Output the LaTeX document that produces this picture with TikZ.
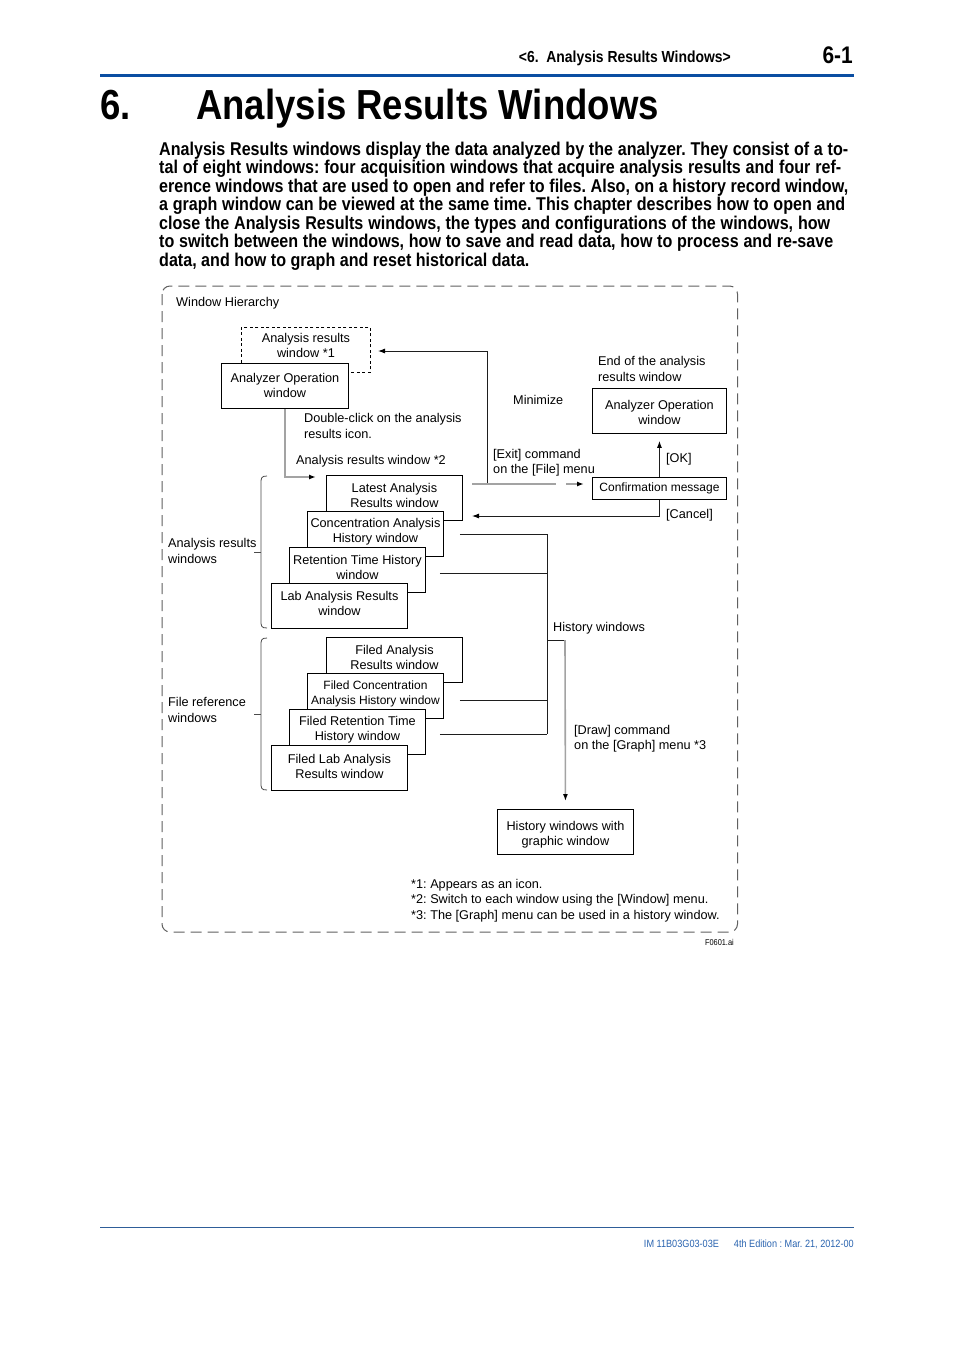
\documentclass[tikz,border=0pt]{standalone}
\usepackage{fontspec}
\setmainfont{Liberation Sans}
\newfontfamily\nb[FakeStretch=0.87]{Liberation Sans}
\usetikzlibrary{arrows.meta,calc}
\definecolor{hdrblue}{HTML}{0B4EA2}
\definecolor{ftblue}{HTML}{2A64B0}
\definecolor{lgray}{HTML}{A3A3A3}
\definecolor{framec}{HTML}{606060}
\definecolor{darkl}{HTML}{1E1E1E}
\frenchspacing
\begin{document}
\begin{tikzpicture}[x=1pt,y=-1pt,
  dtext/.style={font=\fontsize{12.7}{15.5}\selectfont, inner sep=0pt, yshift=-1.5pt},
  btext/.style={font=\fontsize{12.7}{15}\selectfont, inner sep=0pt, align=center},
  wbox/.style={draw=black, line width=0.9pt, fill=white, minimum width=136pt, minimum height=45pt,
    inner sep=0pt, anchor=north west},
  dk/.style={draw=darkl, line width=0.9pt},
  gr/.style={draw=lgray, line width=1.6pt},
  tip/.style={-{Latex[length=7pt,width=5pt,color=black]}},
  bodyl/.style={anchor=base west, inner sep=0pt, font=\nb\bfseries\fontsize{18.5}{20}\selectfont},
]
\useasboundingbox (0,0) rectangle (954,1350);
\fill[white] (0,0) rectangle (954,1350);

% ---------- header ----------
\node[anchor=base east, inner sep=0pt, font=\nb\bfseries\fontsize{16}{18}\selectfont] (hdr) at (731,62) {<6.\ \ Analysis Results Windows>};
\node[anchor=base east, inner sep=0pt, font=\nb\bfseries\fontsize{24}{26}\selectfont] (pg) at (853,63) {6-1};
\draw[hdrblue, line width=3.5pt] (100,75.5) -- (854,75.5);

\node[anchor=base west, inner sep=0pt, font=\nb\bfseries\fontsize{42}{46}\selectfont] (num) at (100,119) {6.};
\node[anchor=base west, inner sep=0pt, font=\nb\bfseries\fontsize{42}{46}\selectfont] (title) at (196,119) {Analysis Results Windows};

% ---------- body ----------
\node[bodyl] (b1) at (159,155) {\makebox[689pt][s]{Analysis Results windows display the data analyzed by the analyzer. They consist of a to-}};
\node[bodyl] (b2) at (159,173.5) {\makebox[682pt][s]{tal of eight windows: four acquisition windows that acquire analysis results and four ref-}};
\node[bodyl] (b3) at (159,192) {\makebox[689pt][s]{erence windows that are used to open and refer to files. Also, on a history record window,}};
\node[bodyl] (b4) at (159,210.5) {\makebox[686pt][s]{a graph window can be viewed at the same time. This chapter describes how to open and}};
\node[bodyl] (b5) at (159,229) {\makebox[671pt][s]{close the Analysis Results windows, the types and configurations of the windows, how}};
\node[bodyl] (b6) at (159,247.5) {\makebox[674pt][s]{to switch between the windows, how to save and read data, how to process and re-save}};
\node[bodyl] (b7) at (159,266) {data, and how to graph and reset historical data.};

% ---------- frame ----------
\draw[framec, line width=1pt, dash pattern=on 11pt off 6pt, rounded corners=8pt] (162,286) rectangle (737.5,932);
\node[dtext, anchor=west] (wh) at (176,302) {Window Hierarchy};

% ---------- upper left ----------
\node[wbox, fill=none, dash pattern=on 3pt off 2.5pt, minimum width=129pt] (arw) at (241,327) {};
\node[btext] (arwt) at ([yshift=4.5pt]arw.center) {Analysis results\\window *1};
\node[wbox, minimum width=127pt] (aow) at (221,363) {};
\node[btext] (aowt) at (aow.center) {Analyzer Operation\\window};
\coordinate (c1) at (316,477);
\draw[gr, tip] (aow.south) |- (c1);
\node[dtext, anchor=west, align=left] (dbl) at (304,424.5) {Double-click on the analysis\\results icon.};
\node[dtext, anchor=west] (arw2) at (296,460) {Analysis results window *2};

% ---------- analysis results stack ----------
\node[wbox] (lat) at (326,475) {};
\node[btext] (latt) at ([yshift=2.5pt]lat.center) {Latest Analysis\\Results window};
\node[wbox] (con) at (307,511) {};
\node[btext] (cont) at ([yshift=2.5pt]con.center) {Concentration Analysis\\History window};
\node[wbox] (ret) at (289,547) {};
\node[btext] (rett) at ([yshift=2.5pt]ret.center) {Retention Time History\\window};
\node[wbox] (lab) at (271,583) {};
\node[btext] (labt) at ([yshift=2.5pt]lab.center) {Lab Analysis Results\\window};

% ---------- file reference stack ----------
\node[wbox] (flat) at (326,637) {};
\node[btext] (flatt) at ([yshift=2.5pt]flat.center) {Filed Analysis\\Results window};
\node[wbox] (fcon) at (307,673) {};
\node[btext, font=\fontsize{12}{15}\selectfont] (fcont) at ([yshift=2.5pt]fcon.center) {Filed Concentration\\Analysis History window};
\node[wbox] (fret) at (289,709) {};
\node[btext] (frett) at ([yshift=2pt]fret.center) {Filed Retention Time\\History window};
\node[wbox] (flab) at (271,745) {};
\node[btext] (flabt) at ([yshift=2pt]flab.center) {Filed Lab Analysis\\Results window};

% ---------- braces ----------
\draw[darkl!80, line width=0.8pt] (267,476) .. controls (261,476) and (261,478) .. (261,484) -- (261,620) .. controls (261,626) and (261,628) .. (267,628);
\draw[darkl!80, line width=0.8pt] (254,552) -- (261,552);
\draw[darkl!80, line width=0.8pt] (267,638) .. controls (261,638) and (261,640) .. (261,646) -- (261,782) .. controls (261,788) and (261,790) .. (267,790);
\draw[darkl!80, line width=0.8pt] (254,714) -- (261,714);
\node[dtext, anchor=west, align=left] (arlab) at (168,549.5) {Analysis results\\windows};
\node[dtext, anchor=west, align=left] (frlab) at (168,708.5) {File reference\\windows};

% ---------- right side ----------
\node[dtext, anchor=west, align=left] (eoa) at (598,367.5) {End of the analysis\\results window};
\node[wbox, minimum width=134pt] (aow2) at (592,388) {};
\node[btext] (aow2t) at ([yshift=-2pt]aow2.center) {Analyzer Operation\\window};
\node[wbox, minimum width=134pt, minimum height=22pt] (conf) at (592,477) {};
\node[btext, font=\fontsize{12}{14}\selectfont] (conft) at (conf.center) {Confirmation message};
\node[dtext, anchor=west] (okl) at (666,458) {[OK]};
\node[dtext, anchor=west] (cancl) at (666,514) {[Cancel]};
\node[dtext, anchor=west] (minl) at (513,398) {Minimize};
\node[dtext, anchor=west, align=left] (exitl) at (493,461) {[Exit] command\\on the [File] menu};

\draw[dk, tip] (conf.north) -- ([yshift=-7pt]aow2.south);
\coordinate (cx) at (472,516);
\draw[dk, tip] (conf.south) |- (cx);

\coordinate (e1) at (472,484);
\coordinate (e2) at (556,484);
\coordinate (e3) at (566,484);
\coordinate (e4) at (584,484);
\coordinate (mbot) at (487,484);
\coordinate (mtop) at (487,351);
\coordinate (mend) at (378,351);
\draw[dk, tip] (mbot) -- (mtop) -- (mend);
\draw[gr] (e1) -- (e2);
\draw[gr, tip] (e3) -- (e4);

% ---------- history windows ----------
\coordinate (h1) at (547,534);
\coordinate (h2) at (547,573);
\coordinate (h3) at (547,700);
\coordinate (h4) at (547,734);
\coordinate (hm) at (547,640);
\coordinate (hc) at (565,640);
\draw[dk] ($(con.east |- h1)+(16,0)$) -- (h1);
\draw[dk] ($(ret.east |- h2)+(14,0)$) -- (h2);
\draw[dk] ($(fcon.east |- h3)+(16,0)$) -- (h3);
\draw[dk] ($(fret.east |- h4)+(14,0)$) -- (h4);
\draw[dk] (h1) -- (h4);
\draw[dk] (hm) -- (hc);
\node[dtext, anchor=west] (hwl) at (553,627) {History windows};
\node[wbox] (hwg) at (497,809) {};
\node[btext] (hwgt) at ([yshift=-3pt]hwg.center) {History windows with\\graphic window};
\draw[gr, tip] (hc) -- ([yshift=8pt]hwg.north);
\node[dtext, anchor=west, align=left] (drawl) at (574,737) {[Draw] command\\on the [Graph] menu *3};

% ---------- footnotes ----------
\node[dtext, anchor=north west, align=left] (fn) at (411,877.5) {*1: Appears as an icon.\\*2: Switch to each window using the [Window] menu.\\*3: The [Graph] menu can be used in a history window.};
\node[anchor=base east, inner sep=0pt, font=\nb\fontsize{8.5}{10}\selectfont] (fid) at (734,945) {F0601.ai};

% ---------- footer ----------
\draw[color=hdrblue!70!gray, line width=0.8pt] (100,1227.5) -- (854,1227.5);
\node[anchor=base east, inner sep=0pt, text=ftblue, font=\nb\fontsize{10.5}{12}\selectfont] (foot) at (854,1247.5) {IM 11B03G03-03E\hspace{15pt}4th Edition : Mar. 21, 2012-00};
\end{tikzpicture}
\end{document}
